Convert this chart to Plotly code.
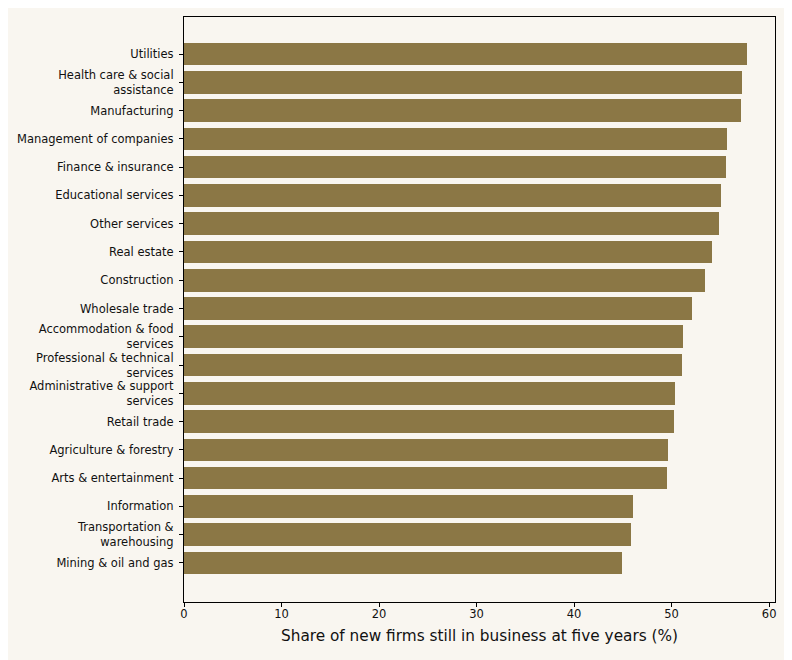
import plotly.graph_objects as go

# bottom to top
industries = [
    "Mining & oil and gas",
    "Transportation &<br>warehousing",
    "Information",
    "Arts & entertainment",
    "Agriculture & forestry",
    "Retail trade",
    "Administrative & support<br>services",
    "Professional & technical<br>services",
    "Accommodation & food<br>services",
    "Wholesale trade",
    "Construction",
    "Real estate",
    "Other services",
    "Educational services",
    "Finance & insurance",
    "Management of companies",
    "Manufacturing",
    "Health care & social<br>assistance",
    "Utilities",
]
survival_share = [44.9, 45.8, 46.0, 49.5, 49.6, 50.2, 50.3, 51.05, 51.15, 52.1,
                  53.4, 54.1, 54.85, 55.05, 55.6, 55.7, 57.1, 57.2, 57.7]

bg = "#f9f6f0"
bar_color = "#8b7745"

fig = go.Figure()
fig.add_trace(go.Bar(
    x=survival_share,
    y=list(range(len(industries))),
    orientation="h",
    width=0.8,
    marker=dict(color=bar_color, line=dict(width=0)),
))

# page body has an 8px margin, so the figure is a bit smaller than the window
fig.update_layout(
    width=784, height=652,
    paper_bgcolor=bg, plot_bgcolor=bg,
    margin=dict(l=176, r=17, t=9, b=58),
    font=dict(family="DejaVu Sans", size=11.5, color="#111111"),
    showlegend=False,
    bargap=0,
)
fig.update_xaxes(
    range=[0, 60.6], tickvals=[0, 10, 20, 30, 40, 50, 60],
    ticks="outside", ticklen=4, tickwidth=1, tickcolor="black",
    ticklabelstandoff=-3,
    showline=True, linecolor="black", linewidth=1.2, mirror=True,
    showgrid=False, zeroline=False,
    title=dict(text="Share of new firms still in business at five years (%)",
               font=dict(size=15.3), standoff=10),
)
fig.update_yaxes(
    range=[-1.38, 19.31],
    tickvals=list(range(len(industries))), ticktext=industries,
    ticks="outside", ticklen=4, tickwidth=1, tickcolor="black",
    ticklabelstandoff=3,
    showline=True, linecolor="black", linewidth=1.2, mirror=True,
    showgrid=False, zeroline=False,
)

fig.write_html("out.html")
